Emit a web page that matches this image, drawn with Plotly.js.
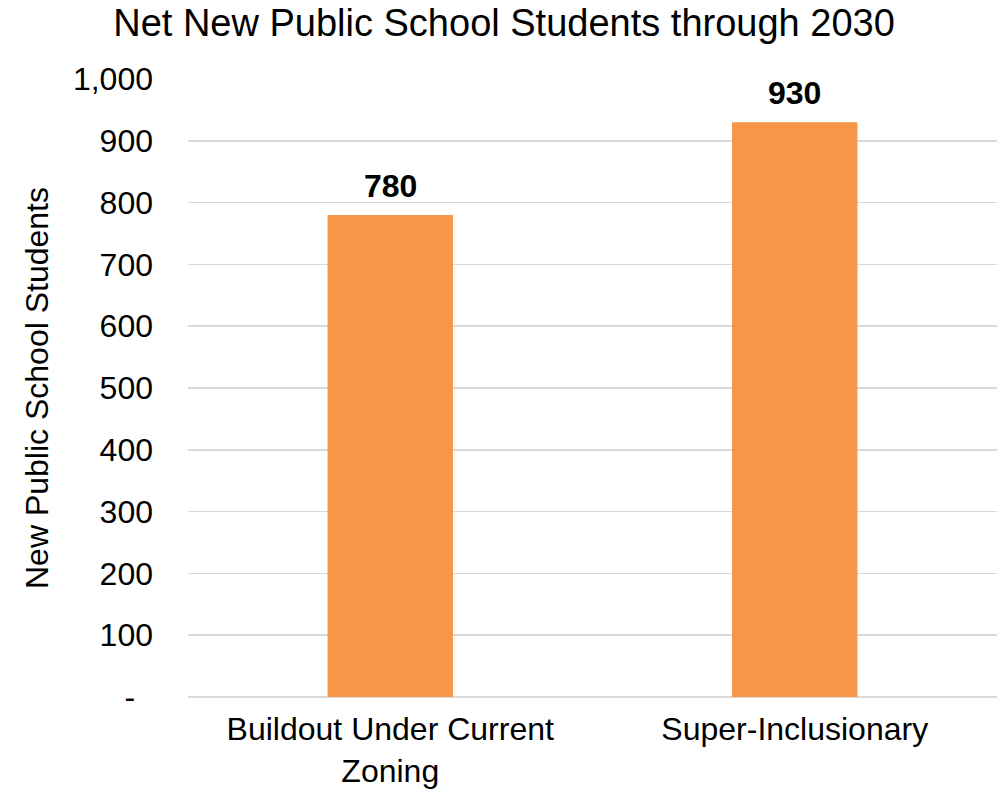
<!DOCTYPE html>
<html><head><meta charset="utf-8">
<script src="https://cdn.plot.ly/plotly-3.0.1.min.js"></script>
<style>body{margin:0;background:#fff}#c{width:1004px;height:790px}</style>
</head><body><div id="c"></div>
<script>
const categories = ["Buildout Under Current<br>Zoning", "Super-Inclusionary"];
const students = [780, 930];
const labels = ["780", "930"];
const tickValues = [0, 100, 200, 300, 400, 500, 600, 700, 800, 900, 1000];
const tickLabels = ["-\u00a0\u00a0", "100", "200", "300", "400", "500", "600", "700", "800", "900", "1,000"];

const font = "Liberation Sans, Arial, sans-serif";
Plotly.newPlot("c", [{
  type: "bar",
  x: categories,
  y: students,
  width: 0.31,
  marker: {color: "#F79646"},
  hoverinfo: "skip"
}], {
  width: 1004, height: 790,
  margin: {l: 188, r: 7, t: 79, b: 93},
  paper_bgcolor: "#fff", plot_bgcolor: "#fff",
  font: {family: font, color: "#000"},
  title: {text: "Net New Public School Students through 2030", font: {size: 38, color: "#000"}, x: 0.502, xanchor: "center", y: 0.971, yanchor: "middle"},
  xaxis: {tickfont: {size: 32}, ticklabelstandoff: 10, showline: false, fixedrange: true},
  yaxis: {
    range: [0, 1000], tickvals: tickValues, ticktext: tickLabels,
    tickfont: {size: 32}, ticklabelstandoff: 34,
    gridcolor: "#d9d9d9", gridwidth: 1.5, zeroline: true, zerolinecolor: "#d9d9d9", zerolinewidth: 2,
    title: {text: "New Public School Students", font: {size: 32}, standoff: 14}
  },
  annotations: categories.map((c, i) => ({
    x: c, y: students[i], text: "<b>" + labels[i] + "</b>", showarrow: false,
    yanchor: "bottom", yshift: 9, font: {size: 32, color: "#000"}
  })),
  showlegend: false,
  bargap: 0.69
}, {staticPlot: true});
</script></body></html>
